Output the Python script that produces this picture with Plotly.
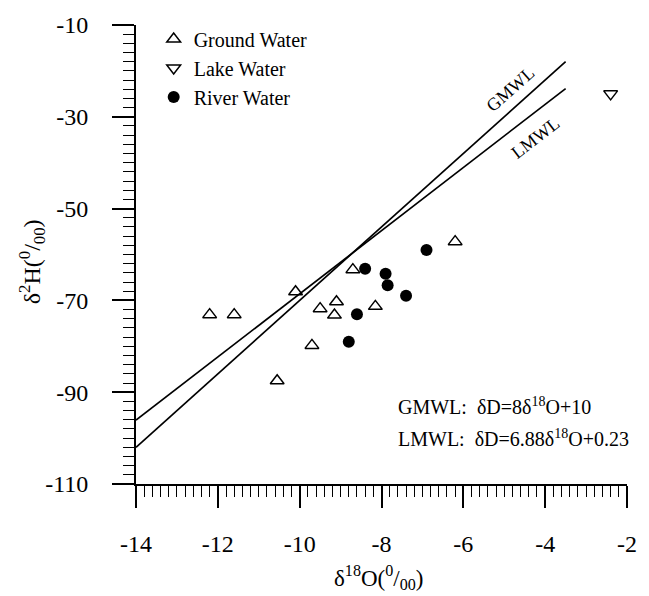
import plotly.graph_objects as go

# ---- data ----
gw_x = [-12.2, -11.6, -10.1, -9.5, -9.1, -9.15, -8.7, -8.15, -6.2, -9.7, -10.55]
gw_y = [-73.1, -73.1, -68.1, -71.8, -70.3, -73.2, -63.3, -71.3, -57.2, -79.8, -87.5]
lake_x = [-2.4]
lake_y = [-25.0]
river_x = [-8.4, -7.9, -7.85, -7.4, -6.9, -8.6, -8.8]
river_y = [-63.1, -64.2, -66.7, -69.0, -59.0, -73.0, -79.0]

line_names = ["GMWL", "LMWL"]
line_slopes = [8.0, 6.88]
line_intercepts = [10.0, 0.23]
line_x_extent = [-14.0, -3.5]

x_ticks = [-14, -12, -10, -8, -6, -4, -2]
y_ticks = [-110, -90, -70, -50, -30, -10]

FONT = "Liberation Serif"

fig = go.Figure()

for name, m, b in zip(line_names, line_slopes, line_intercepts):
    fig.add_trace(go.Scatter(
        x=line_x_extent, y=[m * v + b for v in line_x_extent],
        mode="lines", line=dict(color="black", width=1.7),
        showlegend=False, hoverinfo="skip"))

fig.add_trace(go.Scatter(
    x=gw_x, y=gw_y, mode="markers", name="Ground Water", legendgroup="g1",
    marker=dict(symbol="triangle-up-open", size=12, color="black",
                line=dict(width=1.5, color="black"))))
fig.add_trace(go.Scatter(
    x=lake_x, y=lake_y, mode="markers", name="Lake Water", legendgroup="g2",
    marker=dict(symbol="triangle-down-open", size=12, color="black",
                line=dict(width=1.5, color="black"))))
fig.add_trace(go.Scatter(
    x=river_x, y=river_y, mode="markers", name="River Water", legendgroup="g3",
    marker=dict(symbol="circle", size=12, color="black")))

axis_common = dict(
    showgrid=False, zeroline=False, showline=True, linecolor="black", linewidth=1.8,
    ticks="outside", ticklen=22, tickwidth=1.6, tickcolor="black",
    tickfont=dict(family=FONT, size=24, color="black"), mirror=False,
)

fig.update_xaxes(range=[-14, -2], tickvals=x_ticks, ticktext=[str(v) for v in x_ticks],
                 minor=dict(dtick=0.2, ticks="outside", ticklen=11, tickwidth=1.4,
                            tickcolor="black", showgrid=False),
                 ticklabelstandoff=15, **axis_common)
fig.update_yaxes(range=[-110, -10], tickvals=y_ticks, ticktext=[str(v) for v in y_ticks],
                 minor=dict(dtick=2, ticks="outside", ticklen=11, tickwidth=1.4,
                            tickcolor="black", showgrid=False),
                 ticklabelstandoff=19, **axis_common)

annotations = [
    dict(text="δ<sup>18</sup>O(<sup>0</sup>/<sub>00</sub>)", xref="paper", yref="paper",
         x=0.493, y=-0.203, showarrow=False, font=dict(family=FONT, size=23, color="black"),
         xanchor="center", yanchor="middle"),
    dict(text="δ<sup>2</sup>H(<sup>0</sup>/<sub>00</sub>)", xref="paper", yref="paper",
         x=-0.212, y=0.485, showarrow=False, textangle=-90,
         font=dict(family=FONT, size=24, color="black"), xanchor="center", yanchor="middle"),
    dict(text="GMWL:  δD=8δ<sup>18</sup>O+10", xref="paper", yref="paper",
         x=0.529, y=0.169, showarrow=False, xanchor="left", yanchor="middle",
         font=dict(family=FONT, size=20, color="black")),
    dict(text="LMWL:  δD=6.88δ<sup>18</sup>O+0.23", xref="paper", yref="paper",
         x=0.529, y=0.10, showarrow=False, xanchor="left", yanchor="middle",
         font=dict(family=FONT, size=20, color="black")),
    dict(text="GMWL", x=-4.84, y=-24.0, xref="x", yref="y", showarrow=False,
         textangle=-41.7, font=dict(family=FONT, size=18, color="black")),
    dict(text="LMWL", x=-4.24, y=-34.6, xref="x", yref="y", showarrow=False,
         textangle=-37.5, font=dict(family=FONT, size=18, color="black")),
]

fig.update_layout(
    width=649, height=596,
    margin=dict(l=136, r=14, t=21, b=112),
    paper_bgcolor="white", plot_bgcolor="white",
    font=dict(family=FONT, color="black"),
    showlegend=True,
    legend=dict(x=0.036, y=1.012, xanchor="left", yanchor="top",
                font=dict(family=FONT, size=20, color="black"),
                bgcolor="rgba(0,0,0,0)", traceorder="grouped", tracegroupgap=0),
    annotations=annotations,
)

fig.write_html("out.html")
